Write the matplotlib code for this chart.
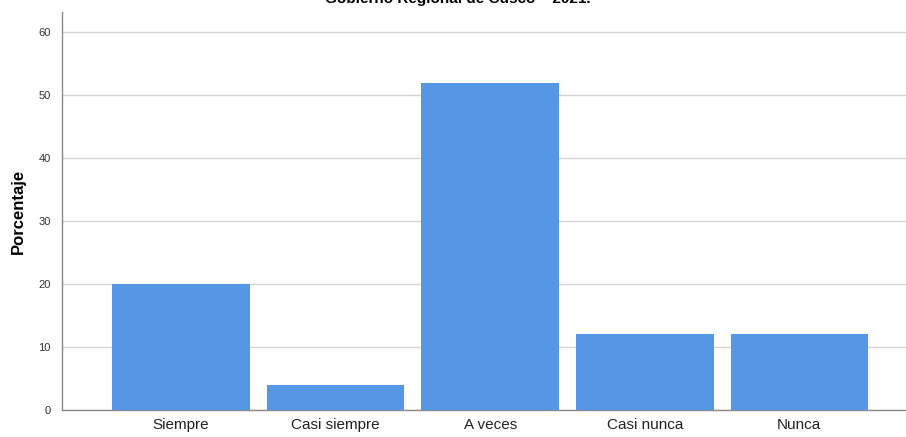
import matplotlib
matplotlib.use('Agg')
import matplotlib.pyplot as plt

# data
categorias = ['Siempre', 'Casi siempre', 'A veces', 'Casi nunca', 'Nunca']
porcentajes = [20, 4, 52, 12, 12]
y_ticks = [0, 10, 20, 30, 40, 50, 60]

plt.rcParams['font.family'] = ['Liberation Sans', 'DejaVu Sans']

fig = plt.figure(figsize=(9.06, 4.37), dpi=100)
ax = fig.add_axes([62 / 906, 27 / 437, 1 - 62 / 906, 398 / 437])

x = range(len(categorias))
ax.bar(x, porcentajes, width=0.89, color='#5596e5', zorder=3)

ax.set_xlim(-0.77, 4.69)
ax.set_ylim(0, 63.2)
ax.set_yticks(y_ticks)
ax.set_xticks(list(x))
ax.set_xticklabels(categorias, fontsize=11, color='#222222')
ax.tick_params(axis='y', labelsize=8, colors='#333333', length=0, pad=8)
ax.tick_params(axis='x', length=0, pad=6)

ax.grid(axis='y', color='#d4d4d4', linewidth=1, zorder=0)
for s in ['top', 'right']:
    ax.spines[s].set_visible(False)
for s in ['left', 'bottom']:
    ax.spines[s].set_color('#8a8a8a')
    ax.spines[s].set_linewidth(1)

ax.set_ylabel('Porcentaje', fontsize=12, fontweight='bold', labelpad=9)

# title is clipped at the top of the picture, like in the source
fig.text(0.505, 1 - 3 / 437, 'Gobierno Regional de Cusco – 2021.', ha='center',
         va='baseline', fontsize=11, fontweight='bold')

fig.savefig('out.png', dpi=100)
